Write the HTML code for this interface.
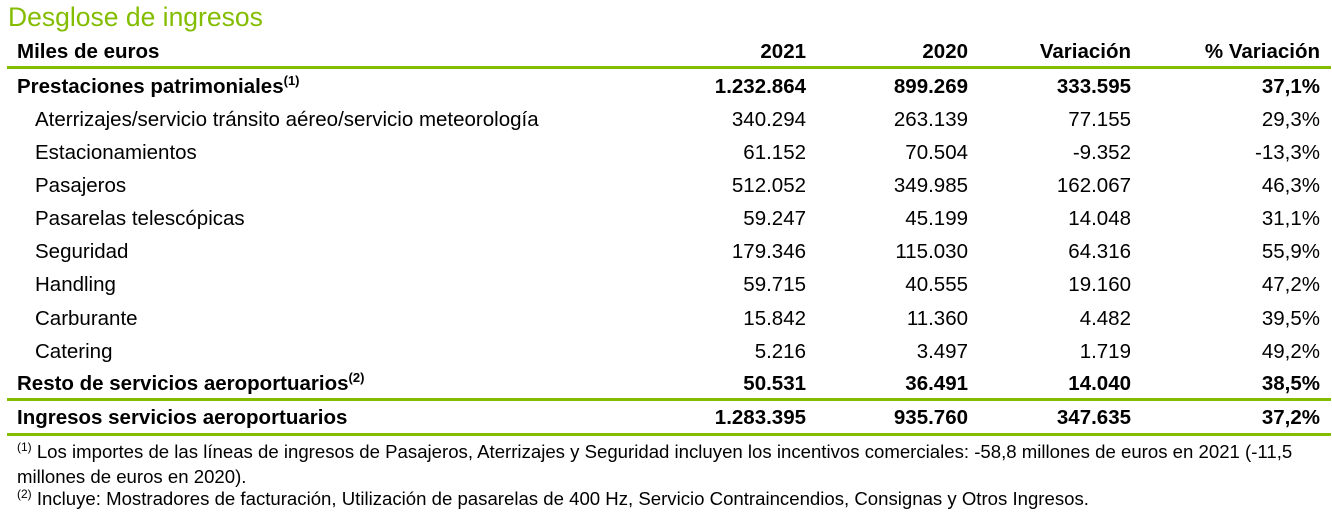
<!DOCTYPE html>
<html><head><meta charset="utf-8"><style>
body{margin:0;width:1332px;height:514px;background:#fff;font-family:"Liberation Sans",Arial,sans-serif;color:#000;position:relative;overflow:hidden}
.t{position:absolute;left:8px;top:2px;font-size:26.5px;color:#84bd00;white-space:nowrap}
.r{position:absolute;left:0;width:1332px;height:33px;font-size:20.5px;line-height:33px}
.r span{position:absolute;white-space:nowrap}
.l{left:17px}.s{left:35px}
.c1{right:526px}.c2{right:364px}.c3{right:201px}.c4{right:12px}
.b{font-weight:bold}
sup{font-size:13px;line-height:0;vertical-align:8px}
.ln{position:absolute;left:7px;width:1324px;height:3px;background:#84bd00}
.f{position:absolute;left:17px;font-size:18.6px;white-space:nowrap}
.f sup{font-size:12px;vertical-align:7px}
</style></head><body>
<div class="t">Desglose de ingresos</div>
<div class="r b" style="top:35px"><span class="l">Miles de euros</span><span class="c1">2021</span><span class="c2">2020</span><span class="c3">Variación</span><span class="c4">% Variación</span></div>
<div class="ln" style="top:66px"></div>
<div class="r b" style="top:70px"><span class="l">Prestaciones patrimoniales<sup>(1)</sup></span><span class="c1">1.232.864</span><span class="c2">899.269</span><span class="c3">333.595</span><span class="c4">37,1%</span></div>
<div class="r" style="top:103px"><span class="s">Aterrizajes/servicio tránsito aéreo/servicio meteorología</span><span class="c1">340.294</span><span class="c2">263.139</span><span class="c3">77.155</span><span class="c4">29,3%</span></div>
<div class="r" style="top:136px"><span class="s">Estacionamientos</span><span class="c1">61.152</span><span class="c2">70.504</span><span class="c3">-9.352</span><span class="c4">-13,3%</span></div>
<div class="r" style="top:169px"><span class="s">Pasajeros</span><span class="c1">512.052</span><span class="c2">349.985</span><span class="c3">162.067</span><span class="c4">46,3%</span></div>
<div class="r" style="top:202px"><span class="s">Pasarelas telescópicas</span><span class="c1">59.247</span><span class="c2">45.199</span><span class="c3">14.048</span><span class="c4">31,1%</span></div>
<div class="r" style="top:235px"><span class="s">Seguridad</span><span class="c1">179.346</span><span class="c2">115.030</span><span class="c3">64.316</span><span class="c4">55,9%</span></div>
<div class="r" style="top:268px"><span class="s">Handling</span><span class="c1">59.715</span><span class="c2">40.555</span><span class="c3">19.160</span><span class="c4">47,2%</span></div>
<div class="r" style="top:302px"><span class="s">Carburante</span><span class="c1">15.842</span><span class="c2">11.360</span><span class="c3">4.482</span><span class="c4">39,5%</span></div>
<div class="r" style="top:335px"><span class="s">Catering</span><span class="c1">5.216</span><span class="c2">3.497</span><span class="c3">1.719</span><span class="c4">49,2%</span></div>
<div class="r b" style="top:367px"><span class="l">Resto de servicios aeroportuarios<sup>(2)</sup></span><span class="c1">50.531</span><span class="c2">36.491</span><span class="c3">14.040</span><span class="c4">38,5%</span></div>
<div class="ln" style="top:398px"></div>
<div class="r b" style="top:401px"><span class="l">Ingresos servicios aeroportuarios</span><span class="c1">1.283.395</span><span class="c2">935.760</span><span class="c3">347.635</span><span class="c4">37,2%</span></div>
<div class="ln" style="top:433px"></div>
<div class="f" style="top:441px"><sup>(1)</sup> Los importes de las líneas de ingresos de Pasajeros, Aterrizajes y Seguridad incluyen los incentivos comerciales: -58,8 millones de euros en 2021 (-11,5</div>
<div class="f" style="top:466px">millones de euros en 2020).</div>
<div class="f" style="top:488px"><sup>(2)</sup> Incluye: Mostradores de facturación, Utilización de pasarelas de 400 Hz, Servicio Contraincendios, Consignas y Otros Ingresos.</div>
</body></html>
